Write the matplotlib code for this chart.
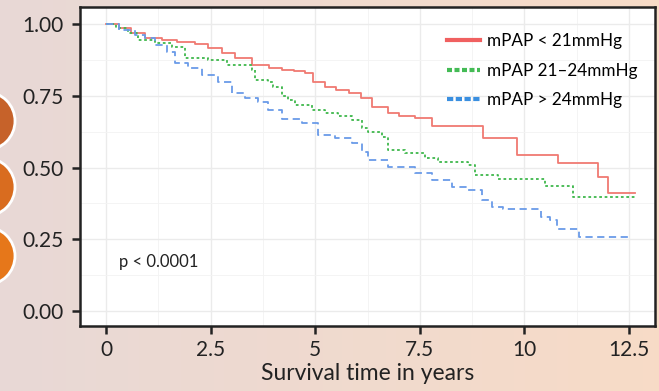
import numpy as np
import matplotlib
matplotlib.use("Agg")
import matplotlib.pyplot as plt
from matplotlib.patches import Circle
from matplotlib.lines import Line2D
from matplotlib.ticker import MultipleLocator

plt.rcParams['font.family'] = ['Lato', 'DejaVu Sans']

# Data
t_low = [0, 0.3, 0.6, 0.93, 1.34, 1.7, 2.13, 2.44, 2.77, 3.08, 3.5, 3.9, 4.2, 4.5,
         4.76, 4.95, 5.23, 5.5, 5.8, 6.1, 6.36, 6.75, 7.0, 7.39, 7.79, 9.0, 9.82,
         10.8, 11.76, 12.0, 12.65]
s_low = [1.0, 0.985, 0.97, 0.951, 0.944, 0.938, 0.93, 0.916, 0.899, 0.881, 0.857,
         0.848, 0.84, 0.835, 0.829, 0.798, 0.78, 0.77, 0.76, 0.742, 0.711, 0.69,
         0.68, 0.672, 0.645, 0.603, 0.544, 0.516, 0.467, 0.41, 0.41]

t_mid = [0, 0.25, 0.53, 0.77, 1.17, 1.58, 1.9, 2.44, 2.9, 3.5, 3.56, 3.87, 4.0, 4.2,
         4.35, 4.52, 4.92, 5.23, 5.55, 5.88, 6.12, 6.26, 6.6, 6.74, 7.15, 7.62,
         7.94, 8.65, 8.82, 9.37, 10.5, 11.16, 12.7]
s_mid = [1.0, 0.985, 0.969, 0.944, 0.934, 0.92, 0.88, 0.875, 0.857, 0.84, 0.805,
         0.798, 0.78, 0.75, 0.735, 0.718, 0.70, 0.69, 0.68, 0.666, 0.638, 0.624,
         0.606, 0.561, 0.55, 0.533, 0.519, 0.509, 0.474, 0.46, 0.436, 0.397, 0.397]

t_high = [0, 0.3, 0.69, 0.93, 1.17, 1.46, 1.65, 1.96, 2.29, 2.68, 3.01, 3.32, 3.63,
          3.87, 4.2, 4.68, 5.07, 5.47, 5.88, 6.12, 6.26, 6.74, 7.39, 7.79, 8.27,
          8.65, 8.99, 9.22, 9.49, 10.4, 10.6, 10.78, 11.3, 12.52]
s_high = [1.0, 0.98, 0.962, 0.951, 0.927, 0.902, 0.864, 0.847, 0.822, 0.798, 0.76,
          0.742, 0.728, 0.70, 0.669, 0.655, 0.613, 0.603, 0.585, 0.554, 0.526,
          0.502, 0.481, 0.456, 0.432, 0.422, 0.387, 0.362, 0.355, 0.328, 0.317,
          0.286, 0.258, 0.258]

labels = ['mPAP < 21mmHg', 'mPAP 21\u201324mmHg', 'mPAP > 24mmHg']
x_ticks = [0, 2.5, 5, 7.5, 10, 12.5]
x_ticklabels = ['0', '2.5', '5', '7.5', '10', '12.5']
y_ticks = [0, 0.25, 0.5, 0.75, 1.0]

W, H = 659, 391
fig = plt.figure(figsize=(W / 100, H / 100), dpi=100)

# background gradient + decorative circles
bg = fig.add_axes([0, 0, 1, 1])
grad = np.linspace(0, 1, 256)[None, :]
c0 = np.array([0.91, 0.85, 0.84])
c1 = np.array([0.97, 0.86, 0.78])
img = c0[None, None, :] * (1 - grad[..., None]) + c1[None, None, :] * grad[..., None]
bg.imshow(img, extent=[0, W, H, 0], aspect='auto')
for cy, col in [(121, '#c6622a'), (187, '#d96c1f'), (256, '#e6771a')]:
    bg.add_patch(Circle((-14, cy), 29, facecolor=col, edgecolor='white', lw=2))
bg.set_xlim(0, W)
bg.set_ylim(H, 0)
bg.axis('off')

ax = fig.add_axes([80 / W, 1 - 326 / H, (655 - 80) / W, (326 - 7) / H])
ax.set_facecolor('white')

ax.step(t_low, s_low, where='post', color='#f07a72', lw=1.3)
ax.step(t_mid, s_mid, where='post', color='#3fb84c', lw=1.3, dashes=(1.5, 1.5))
ax.step(t_high, s_high, where='post', color='#6a9be8', lw=1.3, dashes=(4, 2.5))

ax.set_xlim(-0.62, 13.12)
ax.set_ylim(-0.052, 1.059)
ax.set_xticks(x_ticks)
ax.set_xticklabels(x_ticklabels)
ax.set_yticks(y_ticks)
ax.set_yticklabels(['%.2f' % v for v in y_ticks])
ax.xaxis.set_minor_locator(MultipleLocator(1.25))
ax.yaxis.set_minor_locator(MultipleLocator(0.125))
ax.grid(which='major', color='#ebebeb', lw=1.0)
ax.grid(which='minor', color='#f3f3f3', lw=0.6)
ax.set_axisbelow(True)
ax.tick_params(which='major', length=6, width=1.8, color='#222222', labelsize=15,
               labelcolor='#222222')
ax.tick_params(axis='y', pad=6)
ax.tick_params(axis='x', pad=4)
ax.tick_params(which='minor', length=0)
for sp in ax.spines.values():
    sp.set_color('#222222')
    sp.set_linewidth(1.8)

ax.set_xlabel('Survival time in years', fontsize=16.5, color='#222222', labelpad=2)
ax.text(0.3, 0.17, 'p < 0.0001', fontsize=12, color='#222222', va='center')

handles = [Line2D([], [], color='#f06060', lw=3),
           Line2D([], [], color='#44bb55', lw=3, dashes=(1.2, 0.6)),
           Line2D([], [], color='#3a8fe0', lw=3, dashes=(1.5, 0.6))]
ax.legend(handles, labels, loc='upper left', bbox_to_anchor=(447 / W, 1 - 33 / H),
          bbox_transform=fig.transFigure, frameon=False, fontsize=12.3,
          handlelength=1.95, handletextpad=0.4, labelspacing=0.8, borderpad=0,
          borderaxespad=0)

fig.savefig('out.png', dpi=100)
